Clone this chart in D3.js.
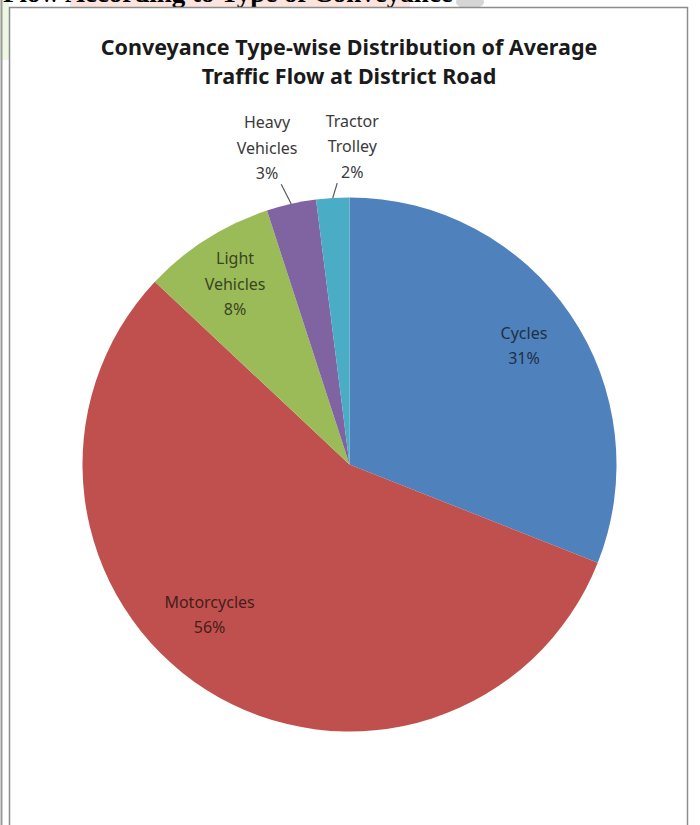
<!DOCTYPE html>
<html>
<head>
<meta charset="utf-8">
<script src="https://cdn.jsdelivr.net/npm/d3@7/dist/d3.min.js"></script>
<style>
  html, body { margin: 0; padding: 0; background: #fff; }
  svg { display: block; }
</style>
</head>
<body>
<svg id="chart" width="700" height="825"></svg>
<script>
// Conveyance types and their share of the average traffic flow (%)
const categories = ["Cycles", "Motorcycles", "Light Vehicles", "Heavy Vehicles", "Tractor Trolley"];
const shares = [31, 56, 8, 3, 2];
const labelLines = [["Cycles"], ["Motorcycles"], ["Light", "Vehicles"], ["Heavy", "Vehicles"], ["Tractor", "Trolley"]];
const colors = ["#4F81BD", "#C0504D", "#9BBB59", "#8064A2", "#4BACC6"];

const headerText = "Flow According to Type of Conveyance";
const titleLines = ["Conveyance Type-wise Distribution  of Average", "Traffic Flow at District Road"];

// Label placement: radius as a fraction of the pie radius, angle nudge in degrees,
// and for outside labels the leader-line end point.
const labelLayout = [
  { r: 0.79, da: 0, inside: true },
  { r: 0.77, da: 10.5, inside: true },
  { r: 0.80, da: 0, inside: true },
  { r: 1.225, da: -2, inside: false, lr: 1.08, lda: -1.1 },
  { r: 1.19, da: 4.1, inside: false, lr: 1.055, lda: 1.1 }
];

const svg = d3.select("#chart");
const W = 700, H = 825;

// Page fragment above the chart frame
svg.append("rect").attr("x", 0).attr("y", 0).attr("width", 9).attr("height", 60).attr("fill", "#eef6e4");
svg.append("rect").attr("x", 70).attr("y", 0).attr("width", 340).attr("height", 7).attr("fill", "#fbe3de");
svg.append("ellipse").attr("cx", 470).attr("cy", 2).attr("rx", 14).attr("ry", 7).attr("fill", "#d6d6d6");
svg.append("text")
  .attr("x", 3).attr("y", 2)
  .attr("font-family", "'Liberation Serif', 'Times New Roman', serif")
  .attr("font-weight", "bold")
  .attr("font-size", 27)
  .attr("fill", "#000")
  .text(headerText);

// Chart frame
svg.append("line").attr("x1", 1.5).attr("x2", 1.5).attr("y1", 0).attr("y2", H)
  .attr("stroke", "#9a9a9a").attr("stroke-width", 2);
svg.append("rect").attr("x", 9.5).attr("y", 7.5).attr("width", 678).attr("height", H + 10)
  .attr("fill", "#fff").attr("stroke", "#8c8c8c").attr("stroke-width", 1.5);

// Title
svg.append("g").selectAll("text").data(titleLines).join("text")
  .attr("x", 349)
  .attr("y", (d, i) => 55 + i * 29)
  .attr("text-anchor", "middle")
  .attr("font-family", "'Noto Sans', 'Open Sans', sans-serif")
  .attr("font-weight", "bold")
  .attr("font-size", 21.5)
  .attr("fill", "#1a1a1a")
  .text(d => d);

// Pie
const cx = 349.5, cy = 464.5, R = 267;
const data = categories.map((c, i) => ({ name: c, value: shares[i], color: colors[i], lines: labelLines[i], layout: labelLayout[i] }));
const pie = d3.pie().sort(null).value(d => d.value).startAngle(0).endAngle(2 * Math.PI);
const arcs = pie(data);
const arc = d3.arc().innerRadius(0).outerRadius(R);

const g = svg.append("g").attr("transform", `translate(${cx},${cy})`);
g.selectAll("path").data(arcs).join("path")
  .attr("d", arc)
  .attr("fill", d => d.data.color);

const polar = (r, a) => [r * Math.sin(a), -r * Math.cos(a)];
const rad = deg => deg * Math.PI / 180;

const lineH = 25.5;
arcs.forEach(a => {
  const L = a.data.layout;
  const mid = (a.startAngle + a.endAngle) / 2;
  const [lx, ly] = polar(L.r * R, mid + rad(L.da));
  const lines = a.data.lines.concat([a.data.value + "%"]);
  const n = lines.length;
  const fill = L.inside ? d3.color(a.data.color).darker(2.8).formatHex() : "#3a3a3a";

  if (!L.inside) {
    const [sx, sy] = polar(R, mid);
    const [ex, ey] = polar(L.lr * R, mid + rad(L.lda));
    g.append("line")
      .attr("x1", sx).attr("y1", sy).attr("x2", ex).attr("y2", ey)
      .attr("stroke", "#5a5a5a").attr("stroke-width", 1.2);
  }

  const t = g.append("text")
    .attr("text-anchor", "middle")
    .attr("font-family", "'Noto Sans', 'Open Sans', sans-serif")
    .attr("font-size", 16)
    .attr("fill", fill);
  lines.forEach((s, i) => {
    t.append("tspan")
      .attr("x", lx)
      .attr("y", ly + (i - (n - 1) / 2) * lineH + 5.5)
      .text(s);
  });
});
</script>
</body>
</html>
